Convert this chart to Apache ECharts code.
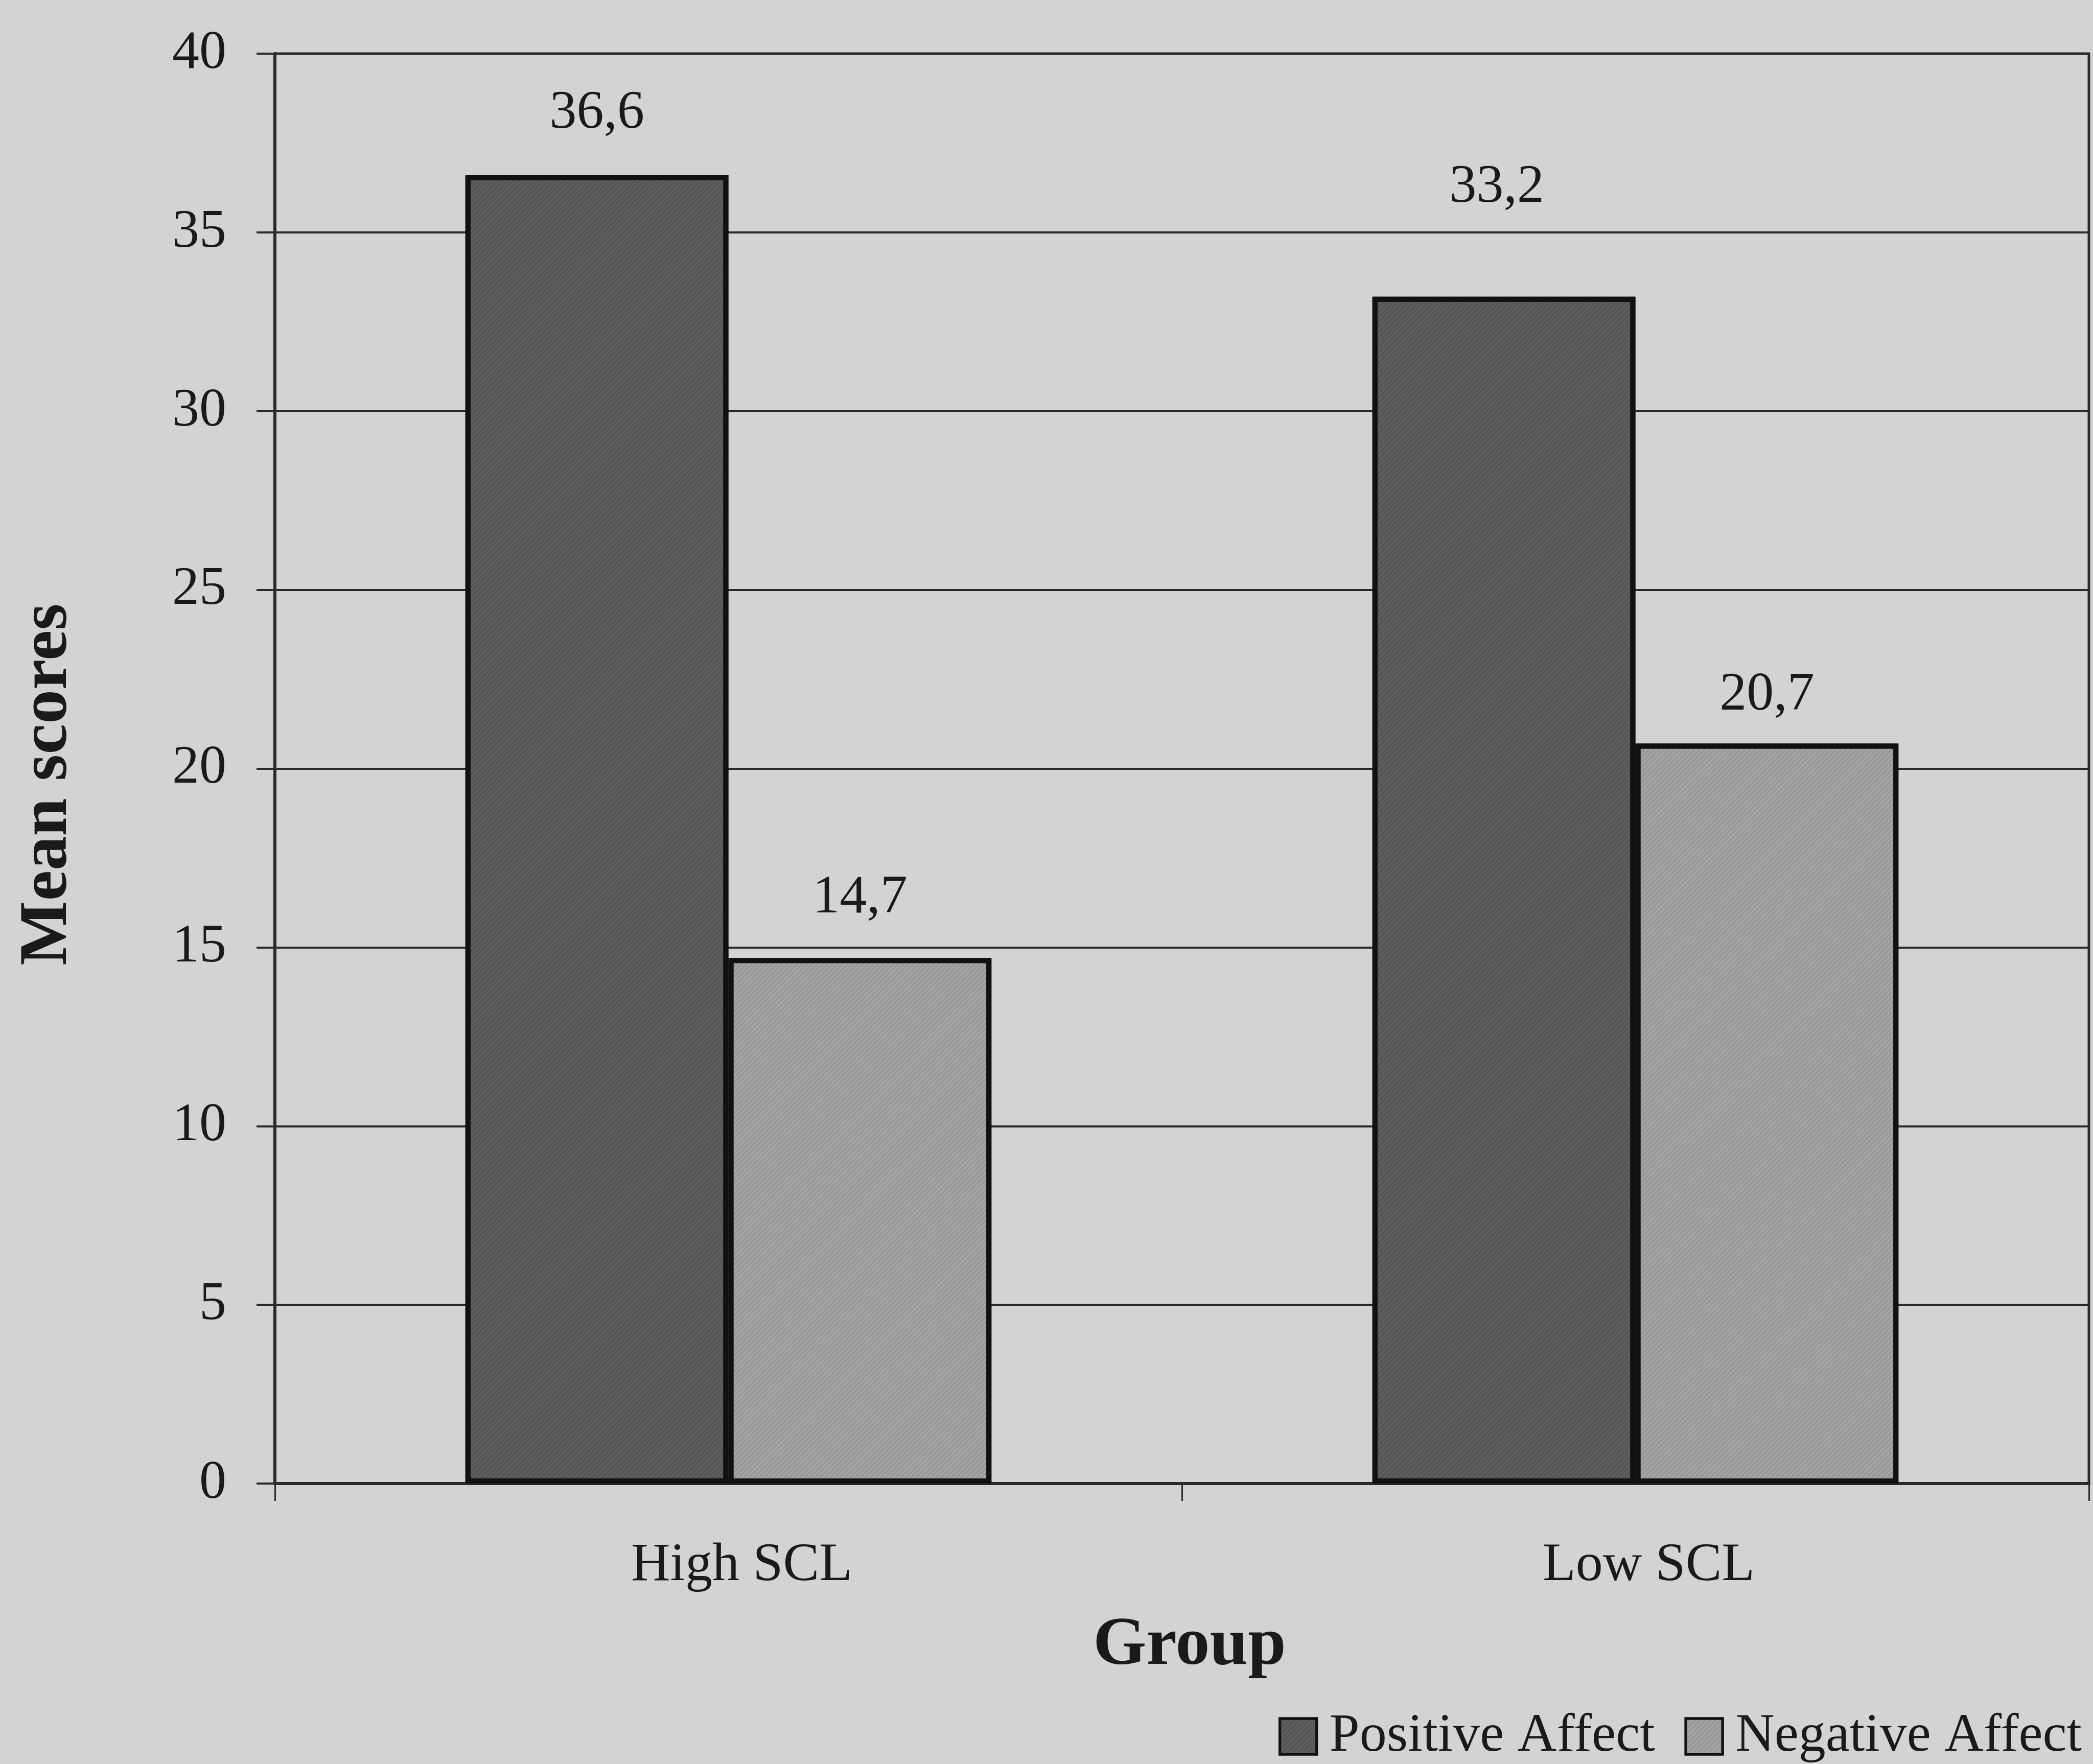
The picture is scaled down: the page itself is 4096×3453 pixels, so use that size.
<!DOCTYPE html>
<html>
<head>
<meta charset="utf-8">
<title>Mean scores by group</title>
<script src="https://cdn.jsdelivr.net/npm/echarts@6/dist/echarts.min.js"></script>
<style>
  html, body { margin: 0; padding: 0; background: #d3d3d3; }
  #chart { width: 4096px; height: 3453px; }
</style>
</head>
<body>
<div id="chart"></div>
<script>
// Groups on the category axis
const groups = ['High SCL', 'Low SCL'];
// Mean scores per group
const positiveAffect = [36.6, 33.2];
const negativeAffect = [14.7, 20.7];
// Value axis range
const yMin = 0;
const yMax = 40;
const yStep = 5;

// Label lift above each bar top (px)
const positiveLabelLift = [68, 161];
const negativeLabelLift = [64, 41];
const positiveLabelShift = [0, -14];
const negativeLabelShift = [0, 0];

const FONT = "'Liberation Serif', 'Times New Roman', serif";
const INK = '#1a1a1a';
const LINE = '#2a2a2a';
const TEXT_SIZE = 106;
const TITLE_SIZE = 134;

const fmt = v => v.toFixed(1).replace('.', ',');

function items(values, lift, shift) {
  return values.map((v, i) => ({
    value: v,
    label: { distance: lift[i], offset: [shift[i], 0] }
  }));
}

const hatch = color => ({
  symbol: 'rect',
  symbolSize: 1,
  dashArrayX: [1, 0],
  dashArrayY: [3, 4],
  rotation: -Math.PI / 4,
  color: color
});

const chart = echarts.init(document.getElementById('chart'), null, { renderer: 'canvas' });

chart.setOption({
  backgroundColor: '#d3d3d3',
  animation: false,
  textStyle: { fontFamily: FONT, color: INK },
  grid: {
    left: 538,
    right: 8,
    top: 105,
    bottom: 549,
    show: true,
    backgroundColor: 'transparent',
    borderColor: LINE,
    borderWidth: 5
  },
  legend: {
    right: 22,
    top: 3346,
    padding: 0,
    itemWidth: 72,
    itemHeight: 70,
    itemGap: 58,
    icon: 'rect',
    textStyle: { fontFamily: FONT, fontSize: TEXT_SIZE, color: INK, padding: [0, 0, 0, 20] },
    itemStyle: { borderWidth: 5, borderColor: '#111' },
    data: ['Positive Affect', 'Negative Affect']
  },
  xAxis: {
    type: 'category',
    data: groups,
    boundaryGap: true,
    name: 'Group',
    nameLocation: 'middle',
    nameGap: 251,
    nameTextStyle: { fontFamily: FONT, fontSize: TITLE_SIZE, fontWeight: 'bold', color: INK, padding: [0, 0, 0, 30] },
    axisLine: { show: true, lineStyle: { color: LINE, width: 6 } },
    axisTick: { show: true, length: 34, lineStyle: { color: LINE, width: 3 } },
    axisLabel: {
      margin: 108, fontFamily: FONT, fontSize: TEXT_SIZE, color: INK,
      padding: [0, 0, 0, 52]
    },
    splitLine: { show: false }
  },
  yAxis: {
    type: 'value',
    min: yMin,
    max: yMax,
    interval: yStep,
    name: 'Mean scores',
    nameLocation: 'middle',
    nameGap: 377,
    nameTextStyle: {
      fontFamily: FONT, fontSize: TITLE_SIZE, fontWeight: 'bold', color: INK,
      padding: [0, 62, 0, 0]
    },
    axisLine: { show: true, lineStyle: { color: LINE, width: 6 } },
    axisTick: { show: true, length: 36, lineStyle: { color: LINE, width: 4 } },
    axisLabel: {
      margin: 95, fontFamily: FONT, fontSize: TEXT_SIZE, color: INK,
      padding: [0, 0, 20, 0]
    },
    splitLine: { show: true, lineStyle: { color: LINE, width: 4 } }
  },
  series: [
    {
      name: 'Positive Affect',
      type: 'bar',
      barGap: '0%',
      barCategoryGap: '42%',
      data: items(positiveAffect, positiveLabelLift, positiveLabelShift),
      itemStyle: {
        color: '#5f5f5f',
        borderColor: '#111',
        borderWidth: 10,
        decal: hatch('rgba(0,0,0,0.12)')
      },
      label: {
        show: true,
        position: 'top',
        fontFamily: FONT,
        fontSize: TEXT_SIZE,
        color: INK,
        formatter: p => fmt(p.value)
      }
    },
    {
      name: 'Negative Affect',
      type: 'bar',
      barGap: '0%',
      barCategoryGap: '42%',
      data: items(negativeAffect, negativeLabelLift, negativeLabelShift),
      itemStyle: {
        color: '#a6a6a6',
        borderColor: '#111',
        borderWidth: 10,
        decal: hatch('rgba(0,0,0,0.10)')
      },
      label: {
        show: true,
        position: 'top',
        fontFamily: FONT,
        fontSize: TEXT_SIZE,
        color: INK,
        formatter: p => fmt(p.value)
      }
    }
  ]
});
</script>
</body>
</html>
